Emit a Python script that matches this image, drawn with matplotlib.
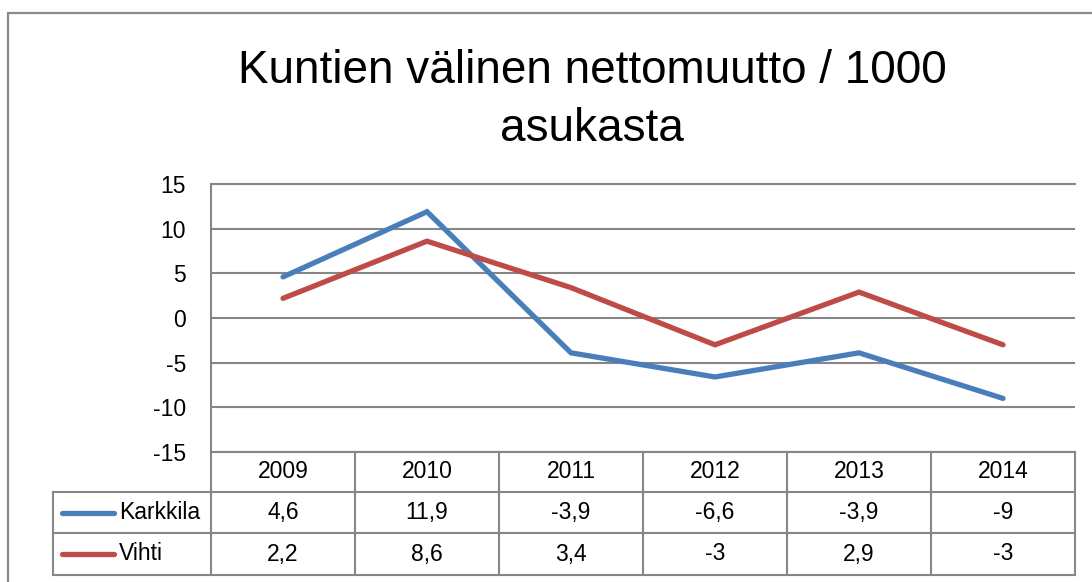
import matplotlib
matplotlib.use("Agg")
import matplotlib.pyplot as plt
from matplotlib.lines import Line2D
from matplotlib.patches import Rectangle

plt.rcParams['font.family'] = ['Liberation Sans', 'DejaVu Sans']
plt.rcParams['axes.unicode_minus'] = False

years = ["2009", "2010", "2011", "2012", "2013", "2014"]
karkkila = [4.6, 11.9, -3.9, -6.6, -3.9, -9]
vihti = [2.2, 8.6, 3.4, -3, 2.9, -3]
series_names = ["Karkkila", "Vihti"]
series_colors = ["#4A7EBB", "#BE4B48"]

W, H = 1092, 582
fig = plt.figure(figsize=(W / 100, H / 100), dpi=100)
fig.patch.set_facecolor("white")


def fx(px):
    return px / W


def fy(py):
    return 1 - py / H


grid_col = "#868686"

# outer chart border (runs off the right and bottom edges)
fig.add_artist(Rectangle((fx(8), fy(600)), fx(1200), fy(13) - fy(600),
                         transform=fig.transFigure, fill=False,
                         edgecolor="#8a8a8a", lw=1.6))

# title
fig.text(fx(592), fy(83), "Kuntien välinen nettomuutto / 1000",
         ha="center", va="baseline", fontsize=33)
fig.text(fx(592), fy(141), "asukasta", ha="center", va="baseline", fontsize=33)

# plot area
left, right, top, bottom = 211, 1075, 184, 452
ax = fig.add_axes([fx(left), fy(bottom), fx(right - left), fy(top) - fy(bottom)])
x = list(range(len(years)))
ax.plot(x, karkkila, color=series_colors[0], lw=3.8, solid_capstyle="round",
        solid_joinstyle="miter", zorder=3)
ax.plot(x, vihti, color=series_colors[1], lw=3.8, solid_capstyle="round",
        solid_joinstyle="miter", zorder=3)
ax.set_xlim(-0.5, len(years) - 0.5)
ax.set_ylim(-15, 15)
ax.set_yticks(range(-15, 16, 5))
ax.set_xticks([])
ax.yaxis.grid(True, color=grid_col, lw=1.5)
ax.set_axisbelow(True)
for side in ["top", "bottom", "left"]:
    ax.spines[side].set_color(grid_col)
    ax.spines[side].set_linewidth(1.5)
ax.spines["right"].set_visible(False)
ax.tick_params(axis="y", length=0, pad=18, labelsize=16.5)

# data table under the plot
row_y = [452, 492, 533, 575]
col_w = (right - left) / len(years)
col_x = [left + i * col_w for i in range(len(years) + 1)]
tbl_left = 53
tlw = 1.5


def hline(y, x0, x1):
    fig.add_artist(Line2D([fx(x0), fx(x1)], [fy(y), fy(y)],
                          transform=fig.transFigure, color=grid_col, lw=tlw))


def vline(xp, y0, y1):
    fig.add_artist(Line2D([fx(xp), fx(xp)], [fy(y0), fy(y1)],
                          transform=fig.transFigure, color=grid_col, lw=tlw))


for y in row_y[1:]:
    hline(y, tbl_left, right)
for xp in col_x:
    vline(xp, row_y[0], row_y[-1])
vline(tbl_left, row_y[1], row_y[-1])

for i, yr in enumerate(years):
    cx = (col_x[i] + col_x[i + 1]) / 2
    fig.text(fx(cx), fy((row_y[0] + row_y[1]) / 2), yr, ha="center",
             va="center", fontsize=16.5)

for r, (name, vals, col) in enumerate(zip(series_names, [karkkila, vihti],
                                          series_colors)):
    cy = (row_y[r + 1] + row_y[r + 2]) / 2
    fig.add_artist(Line2D([fx(62), fx(114)], [fy(cy), fy(cy)],
                          transform=fig.transFigure, color=col, lw=3.8,
                          solid_capstyle="round"))
    fig.text(fx(119), fy(cy), name, ha="left", va="center", fontsize=16.5)
    for i, v in enumerate(vals):
        cx = (col_x[i] + col_x[i + 1]) / 2
        fig.text(fx(cx), fy(cy), f"{v:g}".replace(".", ","), ha="center",
                 va="center", fontsize=16.5)

fig.savefig("out.png", dpi=100)
